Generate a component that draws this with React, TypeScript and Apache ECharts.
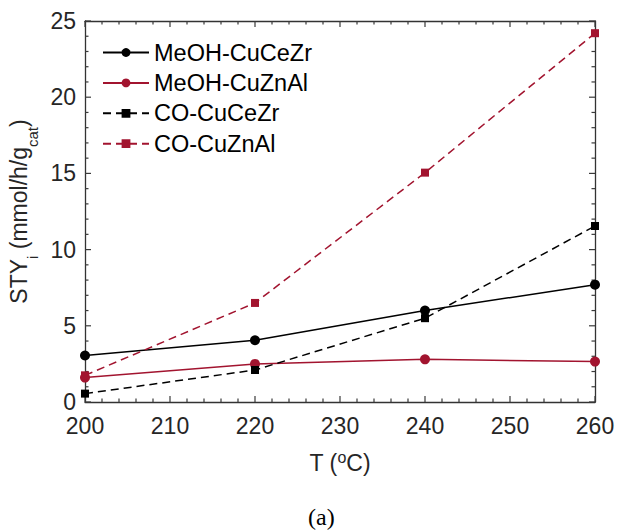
import React, { useEffect, useRef } from "react";
import * as echarts from "echarts";

// ---- data ----
const temperatures = [200, 220, 240, 260];
const meohCuCeZr = [3.05, 4.05, 6.0, 7.7];
const meohCuZnAl = [1.6, 2.5, 2.8, 2.65];
const coCuCeZr = [0.55, 2.1, 5.5, 11.55];
const coCuZnAl = [1.75, 6.5, 15.05, 24.2];
const seriesNames = ["MeOH-CuCeZr", "MeOH-CuZnAl", "CO-CuCeZr", "CO-CuZnAl"];
const xRange = { min: 200, max: 260, interval: 10 };
const yRange = { min: 0, max: 25, interval: 5 };

// tick positions (drawn as inward ticks on all four sides)
const xMajorTicks = [200, 210, 220, 230, 240, 250, 260];
const xMinorTicks = [202, 204, 206, 208, 212, 214, 216, 218, 222, 224, 226, 228, 232, 234, 236, 238, 242, 244, 246, 248, 252, 254, 256, 258];
const yMajorTicks = [0, 5, 10, 15, 20, 25];
const yMinorTicks = [1, 2, 3, 4, 6, 7, 8, 9, 11, 12, 13, 14, 16, 17, 18, 19, 21, 22, 23, 24];

const BLACK = "#000000";
const RED = "#A2142F";
const AXIS = "#333333";
const LABEL = "#262626";
const FONT = "'Liberation Sans', Arial, Helvetica, sans-serif";

function pairs(ys: number[]) {
  return temperatures.map((t, i) => [t, ys[i]]);
}

export default function App() {
  const ref = useRef<HTMLDivElement>(null);

  useEffect(() => {
    document.body.style.margin = "0";
    if (!ref.current) return;
    const chart = echarts.init(ref.current, undefined, { renderer: "svg" });

    const axisLine = { show: true, onZero: false, lineStyle: { color: AXIS, width: 1.3 } };

    const mk = (name: string, ys: number[], color: string, symbol: string, size: number, dashed: boolean) => ({
      name,
      type: "line",
      data: pairs(ys),
      xAxisIndex: 0,
      yAxisIndex: 0,
      symbol,
      symbolSize: size,
      showSymbol: true,
      clip: false,
      z: 3,
      lineStyle: { color, width: 1.5, type: dashed ? [8, 5] : "solid" },
      itemStyle: { color, borderWidth: 0 },
      emphasis: { disabled: true },
    });

    // kind: 0 = x major, 1 = x minor, 2 = y major, 3 = y minor
    const tickData = [
      ...xMajorTicks.map((v) => [v, 0]),
      ...xMinorTicks.map((v) => [v, 1]),
      ...yMajorTicks.map((v) => [v, 2]),
      ...yMinorTicks.map((v) => [v, 3]),
    ];

    const tickStyle = { stroke: "#3a3a3a", lineWidth: 1.2 };

    const tickSeries = {
      type: "custom",
      name: "ticks",
      xAxisIndex: 0,
      yAxisIndex: 0,
      silent: true,
      clip: false,
      z: 1,
      data: tickData,
      encode: { x: 0, y: 1 },
      renderItem: (params: any, api: any) => {
        const v = api.value(0);
        const kind = api.value(1);
        const major = kind === 0 || kind === 2;
        const len = major ? 6 : 3.5;
        if (kind === 0 || kind === 1) {
          const b = api.coord([v, yRange.min]);
          const t = api.coord([v, yRange.max]);
          return {
            type: "group",
            children: [
              { type: "line", shape: { x1: b[0], y1: b[1], x2: b[0], y2: b[1] - len }, style: tickStyle },
              { type: "line", shape: { x1: t[0], y1: t[1], x2: t[0], y2: t[1] + len }, style: tickStyle },
            ],
          };
        }
        const l = api.coord([xRange.min, v]);
        const r = api.coord([xRange.max, v]);
        return {
          type: "group",
          children: [
            { type: "line", shape: { x1: l[0], y1: l[1], x2: l[0] + len, y2: l[1] }, style: tickStyle },
            { type: "line", shape: { x1: r[0], y1: r[1], x2: r[0] - len, y2: r[1] }, style: tickStyle },
          ],
        };
      },
    };

    chart.setOption({
      animation: false,
      backgroundColor: "#ffffff",
      textStyle: { fontFamily: FONT },
      grid: { left: 85, right: 22, top: 21, bottom: 129, containLabel: false, outerBoundsMode: "none" },
      legend: {
        orient: "vertical",
        left: 102,
        top: 37.5,
        padding: 0,
        itemWidth: 46,
        itemHeight: 11,
        itemGap: 0.4,
        data: seriesNames,
        textStyle: { fontSize: 23.5, color: BLACK, fontFamily: FONT, lineHeight: 30 },
        selectedMode: false,
      },
      xAxis: [
        {
          type: "value",
          position: "bottom",
          min: xRange.min,
          max: xRange.max,
          interval: xRange.interval,
          axisLine,
          axisTick: { show: false },
          minorTick: { show: false },
          splitLine: { show: false },
          axisLabel: { show: true, fontSize: 23, color: LABEL, margin: 12, fontFamily: FONT },
          name: "{n|T (}{s|o}{n|C)}",
          nameLocation: "middle",
          nameGap: 49,
          nameTextStyle: {
            rich: {
              n: { fontSize: 23, lineHeight: 24, color: LABEL, fontFamily: FONT },
              s: { fontSize: 16, lineHeight: 24, color: LABEL, fontFamily: FONT, padding: [0, 0, 12, 0] },
            },
          },
        },
        {
          type: "value",
          position: "top",
          min: xRange.min,
          max: xRange.max,
          interval: xRange.interval,
          axisLine,
          axisTick: { show: false },
          minorTick: { show: false },
          splitLine: { show: false },
          axisLabel: { show: false },
        },
      ],
      yAxis: [
        {
          type: "value",
          position: "left",
          min: yRange.min,
          max: yRange.max,
          interval: yRange.interval,
          axisLine,
          axisTick: { show: false },
          minorTick: { show: false },
          splitLine: { show: false },
          axisLabel: { show: true, fontSize: 23, color: LABEL, margin: 9, fontFamily: FONT },
          name: "{n|STY}{b|i}{n| (mmol/h/g}{b|cat}{n|)}",
          nameLocation: "middle",
          nameRotate: 90,
          nameGap: 49,
          nameTextStyle: {
            rich: {
              n: { fontSize: 23, lineHeight: 24, color: LABEL, fontFamily: FONT },
              b: { fontSize: 15, lineHeight: 24, color: LABEL, fontFamily: FONT, padding: [26, 0, 0, 0] },
            },
          },
        },
        {
          type: "value",
          position: "right",
          min: yRange.min,
          max: yRange.max,
          interval: yRange.interval,
          axisLine,
          axisTick: { show: false },
          minorTick: { show: false },
          splitLine: { show: false },
          axisLabel: { show: false },
        },
      ],
      graphic: [
        {
          type: "text",
          left: 308,
          top: 505,
          style: {
            text: "(a)",
            font: "24px 'Liberation Serif', 'Times New Roman', serif",
            fill: BLACK,
          },
        },
      ],
      series: [
        tickSeries,
        mk(seriesNames[0], meohCuCeZr, BLACK, "circle", 10, false),
        mk(seriesNames[1], meohCuZnAl, RED, "circle", 10, false),
        mk(seriesNames[2], coCuCeZr, BLACK, "rect", 8, true),
        mk(seriesNames[3], coCuZnAl, RED, "rect", 8, true),
      ],
    });

    return () => chart.dispose();
  }, []);

  return (
    <div
      ref={ref}
      style={{ position: "fixed", left: 0, top: 0, width: 617, height: 531, background: "#fff" }}
    />
  );
}
